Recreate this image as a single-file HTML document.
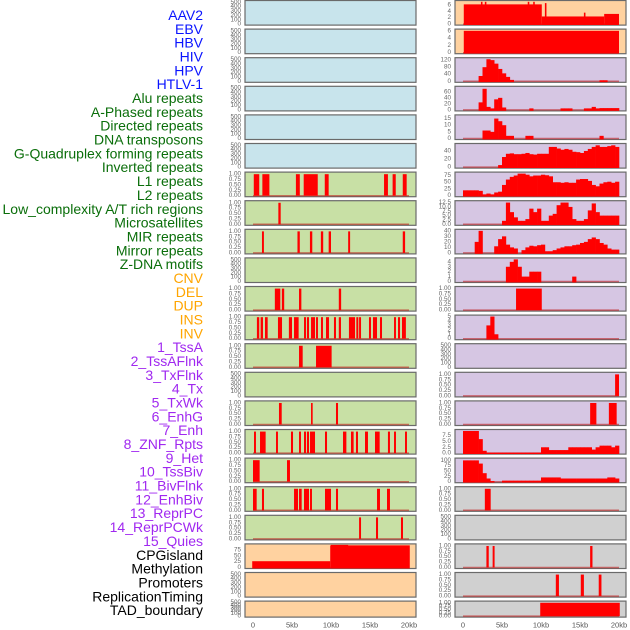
<!DOCTYPE html>
<html><head><meta charset="utf-8">
<style>
html,body{margin:0;padding:0;background:#fff;}
svg{display:block;font-family:"Liberation Sans",sans-serif;}
</style></head>
<body>
<svg id="chart" width="630" height="630" viewBox="0 0 630 630"></svg>
<script>
// ---------- data ----------
const trackLabels = ["AAV2","EBV","HBV","HIV","HPV","HTLV-1","Alu repeats","A-Phased repeats","Directed repeats","DNA transposons","G-Quadruplex forming repeats","Inverted repeats","L1 repeats","L2 repeats","Low_complexity A/T rich regions","Microsatellites","MIR repeats","Mirror repeats","Z-DNA motifs","CNV","DEL","DUP","INS","INV","1_TssA","2_TssAFlnk","3_TxFlnk","4_Tx","5_TxWk","6_EnhG","7_Enh","8_ZNF_Rpts","9_Het","10_TssBiv","11_BivFlnk","12_EnhBiv","13_ReprPC","14_ReprPCWk","15_Quies","CPGisland","Methylation","Promoters","ReplicationTiming","TAD_boundary"];
const xTicks = [0,5,10,15,20];
const xTickLabels = ["0","5kb","10kb","15kb","20kb"];

// binary interval tracks (kb start, kb end)
const aluSpans = [[0.1,0.8],[1.2,2.1],[5.5,6.0],[6.5,8.3],[9.2,9.7],[16.8,17.3],[17.9,18.3],[19.2,19.7]];
const aPhasedSpans = [[3.25,3.55]];
const directedSpans = [[1.15,1.4],[5.7,6.0],[7.3,7.6],[8.7,9.0],[9.7,10.0],[12.2,12.45],[19.2,19.5]];
const gQuadSpans = [[2.8,3.5],[3.7,4.0],[5.9,6.2],[11.0,11.3]];
const invertedSpans = [[0.5,0.8],[0.98,1.28],[1.54,1.88],[3.2,3.72],[4.6,5.0],[5.26,5.85],[6.54,6.8],[6.92,7.18],[7.44,7.95],[8.08,8.33],[8.72,8.97],[9.36,9.74],[10.38,10.64],[11.0,11.28],[12.3,13.08],[13.25,13.5],[13.6,13.85],[14.87,15.13],[15.38,15.9],[16.28,16.54],[18.08,18.33],[18.59,18.85],[19.1,19.6]];
const l1Spans = [[5.9,6.37],[8.08,10.08]];
const lowComplexSpans = [[3.33,3.68],[7.44,7.65],[10.64,10.9]];
const microSpans = [[0.13,0.38],[0.9,1.62],[2.95,3.2],[4.87,5.13],[5.9,6.15],[6.54,6.8],[6.92,7.18],[7.31,7.95],[9.23,9.49],[11.54,11.97],[12.56,12.9],[13.2,13.46],[14.36,14.74],[15.64,16.24],[17.3,17.56],[18.08,18.33],[19.49,19.74]];
const mirSpans = [[0.0,0.85],[4.36,4.74]];
const mirrorSpans = [[0.0,0.47],[1.15,1.41],[5.26,5.77],[5.9,6.24],[6.54,7.18],[7.31,7.56],[9.23,10.0],[10.64,10.9],[15.9,16.28],[17.18,17.56]];
const zdnaSpans = [[13.6,13.85],[15.77,16.03],[18.97,19.23]];
const hetSpans = [[6.8,10.1]];
const enhBivSpans = [[19.5,20.0]];
const reprPCSpans = [[16.3,17.1],[18.7,19.7]];
const cpgSpans = [[2.8,3.55]];
const promoterSpans = [[3.0,3.3],[3.8,4.05],[16.3,16.6]];
const replicationSpans = [[11.9,12.3],[15.1,15.5],[17.4,17.75]];
const tadSpans = [[9.9,20.1]];

// step tracks (kb start, kb end, value)
const cnvSteps = [[-0.1,9.9,27],[9.9,20.1,95],[10.0,12.2,97]];
const insSteps = [[0.1,10.1,6.2],[10.1,18.1,2.4],[18.1,20.0,3.2],[2.3,2.5,7],[2.8,3.0,7],[8.3,8.5,7],[9.0,9.2,7],[10.5,10.7,6.6],[15.5,15.7,3.6]];
const invSteps = [[0.1,20.0,6]];

// 0.5 kb histogram bins (40 bins)
const tssA = [0,0,0,0,30,80,125,120,100,70,45,25,8,0,0,0,0,0,0,0,0,0,0,0,0,0,0,0,0,0,0,0,0,0,0,6,6,0,0,0];
const tssAFlnk = [0,0,0,0,25,70,10,5,35,40,8,0,0,0,0,0,0,5,0,0,0,0,0,0,0,5,5,5,0,0,0,5,5,10,5,6,6,6,6,6];
const txFlnk = [0,0,0,0,0,6,6,5,15,13,10,2,2,0,0,0,2,2,0,0,0,0,0,0,0,0,0,0,0,0,0,0,0,0,0,2,0,0,0,0];
const tx = [0,0,0,0,0,0,0,0,0,5,25,33,34,32,32,33,35,32,31,33,33,33,50,50,46,43,45,43,38,37,35,40,45,50,54,50,50,52,54,50];
const txWk = [20,20,20,20,18,5,8,5,12,15,40,60,70,75,82,82,78,72,75,75,78,76,72,50,50,48,50,48,48,60,62,62,55,40,35,45,50,52,48,52];
const enhG = [0,0,0,0,0,0,0,0,0,0,2,12.5,7,4,2,2,3,9,7,9,2,2,5,6,11,12.5,12.5,10,3,2,2,3,8,12,7,5,5,5,5,5];
const enh = [0,0,0,20,40,0,0,0,12,25,30,15,10,8,0,5,10,13,12,14,15,3,3,5,8,10,12,12,14,15,18,20,25,28,25,18,15,8,6,6];
const znf = [0,0,0,0,0,0,0,0,0,0,0,3,4,4.5,3,1,1,2,2,2,0,0,0,0,0,0,0,0,1,0,0,0,0,0,0,0,0,0,0,0];
const tssBiv = [0,0,0,0,0,0,3,5,1,0,0,0,0,0,0,0,0,0,0,0,0,0,0,0,0,0,0,0,0,0,0,0,0,0,0,0,0,0,0,0];
const reprPCWk = [9.5,9.5,9.5,9.5,6,1,0.2,0.2,0.2,0.2,0.2,0.2,0.2,0.2,0.2,0.2,0.2,0.2,0.2,0.2,2.5,2.5,1.3,1.3,1.3,1.3,1.3,2.5,2.5,2.5,2.5,2.5,2.5,1.5,2.5,3.2,3.2,3.2,2.5,3.2];
const quies = [100,100,100,100,85,40,15,3,0,0,5,5,5,5,5,5,5,5,5,5,20,20,20,20,20,15,15,15,15,15,15,15,15,15,15,15,15,20,20,15];

const t500 = [0,100,200,300,400,500];
const tBin = [0,0.25,0.5,0.75,1];
const tBinLbl = ["0.00","0.25","0.50","0.75","1.00"];

// panel definitions: [label index, column, row, background, kind, data, ymax, ticks, tickLabels]
const panels = [
 [0,0,0,"blue","empty",null,520,t500,null],[1,0,1,"blue","empty",null,520,t500,null],
 [2,0,2,"blue","empty",null,520,t500,null],[3,0,3,"blue","empty",null,520,t500,null],
 [4,0,4,"blue","empty",null,520,t500,null],[5,0,5,"blue","empty",null,520,t500,null],
 [6,0,6,"green","spans",aluSpans,1.05,tBin,tBinLbl],[7,0,7,"green","spans",aPhasedSpans,1.05,tBin,tBinLbl],
 [8,0,8,"green","spans",directedSpans,1.05,tBin,tBinLbl],[9,0,9,"green","empty",null,520,t500,null],
 [10,0,10,"green","spans",gQuadSpans,1.05,tBin,tBinLbl],[11,0,11,"green","spans",invertedSpans,1.05,tBin,tBinLbl],
 [12,0,12,"green","spans",l1Spans,1.05,tBin,tBinLbl],[13,0,13,"green","empty",null,520,t500,null],
 [14,0,14,"green","spans",lowComplexSpans,1.05,tBin,tBinLbl],[15,0,15,"green","spans",microSpans,1.05,tBin,tBinLbl],
 [16,0,16,"green","spans",mirSpans,1.05,tBin,tBinLbl],[17,0,17,"green","spans",mirrorSpans,1.05,tBin,tBinLbl],
 [18,0,18,"green","spans",zdnaSpans,1.05,tBin,tBinLbl],[19,0,19,"orange","steps",cnvSteps,97,[0,25,50,75],null],
 [20,0,20,"orange","empty",null,520,t500,null],[21,0,21,"orange","empty",null,520,t500,null],
 [22,1,0,"orange","steps",insSteps,7.1,[0,2,4,6],null],[23,1,1,"orange","steps",invSteps,6.2,[0,2,4,6],null],
 [24,1,2,"purple","hist",tssA,128,[0,40,80,120],null],[25,1,3,"purple","hist",tssAFlnk,75,[0,20,40,60],null],
 [26,1,4,"purple","hist",txFlnk,17,[0,5,10,15],null],[27,1,5,"purple","hist",tx,56,[0,20,40],null],
 [28,1,6,"purple","hist",txWk,84,[0,25,50,75],null],[29,1,7,"purple","hist",enhG,13,[0,2.5,5,7.5,10,12.5],["0.0","2.5","5.0","7.5","10.0","12.5"]],
 [30,1,8,"purple","hist",enh,41,[0,10,20,30,40],null],[31,1,9,"purple","hist",znf,4.6,[0,1,2,3,4],null],
 [32,1,10,"purple","spans",hetSpans,1.05,tBin,tBinLbl],[33,1,11,"purple","hist",tssBiv,5.1,[0,1,2,3,4,5],null],
 [34,1,12,"purple","empty",null,520,t500,null],[35,1,13,"purple","spans",enhBivSpans,1.05,tBin,tBinLbl],
 [36,1,14,"purple","spans",reprPCSpans,1.05,tBin,tBinLbl],[37,1,15,"purple","hist",reprPCWk,9.7,[0,2.5,5,7.5],["0.0","2.5","5.0","7.5"]],
 [38,1,16,"purple","hist",quies,106,[0,25,50,75,100],null],[39,1,17,"grey","spans",cpgSpans,1.05,tBin,tBinLbl],
 [40,1,18,"grey","empty",null,520,t500,null],[41,1,19,"grey","spans",promoterSpans,1.05,tBin,tBinLbl],
 [42,1,20,"grey","spans",replicationSpans,1.05,tBin,tBinLbl],[43,1,21,"grey","spans",tadSpans,1.05,tBin,tBinLbl]
];

// ---------- drawing ----------
const NS = "http://www.w3.org/2000/svg";
const svg = document.getElementById("chart");
const bgColors = {blue:"#c8e4ec",green:"#c8e0a5",orange:"#ffd2a0",purple:"#d6c6e3",grey:"#d0d0d0"};
const labelColors = i => i<6 ? "#0a14ff" : i<19 ? "#0a6e0a" : i<24 ? "#ffa500" : i<39 ? "#a028f0" : "#000";
function mk(tag, attrs, parent){
  const e = document.createElementNS(NS, tag);
  for (const k in attrs) e.setAttribute(k, attrs[k]);
  (parent||svg).appendChild(e);
  return e;
}
const colX0 = [245,455], colW = 171, zeroX = [253,463], pxPerKb = 7.8;
const xScale = (col, kb) => zeroX[col] + kb*pxPerKb;
const rowTop = r => 0.5 + r*28.6;
const rowH = r => r===21 ? 16 : 24.6;

// labels
trackLabels.forEach((t,i)=>{
  const el = mk("text",{x:203,y:15+i*13.84,"text-anchor":"end","dominant-baseline":"central","font-size":"14",fill:labelColors(i)});
  el.textContent = t;
  
  
});

panels.forEach(p=>{
  const [li,col,row,bg,kind,data,ymax,ticks,tlbl] = p;
  const top = rowTop(row), h = rowH(row), x0 = colX0[col];
  const bottom = top + h;
  const yScale = v => (bottom-1) - (v/ymax)*(h-2);
  const g = mk("g",{});
  
  
  const r = mk("rect",{x:x0,y:top,width:colW,height:h,fill:bgColors[bg],stroke:"#6a6a6a","stroke-width":1.2},g);
  
  
  const clipId = "c"+li;
  const cp = mk("clipPath",{id:clipId},g);
  mk("rect",{x:x0,y:top,width:colW,height:h},cp);
  const marks = mk("g",{"clip-path":"url(#"+clipId+")"},g);
  if (kind!=="empty"){
    const bl = mk("line",{x1:xScale(col,0),x2:xScale(col,20),y1:yScale(0),y2:yScale(0),stroke:"rgba(190,20,20,0.55)","stroke-width":1.5},marks);
    
    
  }
  if (kind==="spans"){
    data.forEach(s=>{
      const b = mk("rect",{x:xScale(col,s[0]),y:yScale(1),width:Math.max(1,xScale(col,s[1])-xScale(col,s[0])),height:yScale(0)-yScale(1),fill:"#ff0000"},marks);
      
      
    });
  } else if (kind==="steps"){
    data.forEach(s=>{
      const b = mk("rect",{x:xScale(col,s[0]),y:yScale(s[2]),width:xScale(col,s[1])-xScale(col,s[0]),height:yScale(0)-yScale(s[2])+1,fill:"#ff0000"},marks);
      
      
    });
  } else if (kind==="hist"){
    data.forEach((v,i)=>{
      if (v<=0) return;
      const b = mk("rect",{x:xScale(col,i*0.5),y:yScale(v),width:xScale(col,(i+1)*0.5)-xScale(col,i*0.5)+0.3,height:yScale(0)-yScale(v)+1,fill:"#ff0000"},marks);
      
      
    });
  }
  ticks.forEach((t,i)=>{
    const tx = mk("text",{x:x0-4,y:yScale(t),"text-anchor":"end","dominant-baseline":"central","font-size":"6.3",fill:"#666"},g);
    tx.textContent = tlbl ? tlbl[i] : String(t);
    
    
  });
});

// x axes
[0,1].forEach(col=>{
  xTicks.forEach((t,i)=>{
    const tx = mk("text",{x:xScale(col,t),y:625,"text-anchor":"middle","dominant-baseline":"central","font-size":"7.5",fill:"#555"});
    tx.textContent = xTickLabels[i];
    
    
  });
});
</script>
</body></html>
